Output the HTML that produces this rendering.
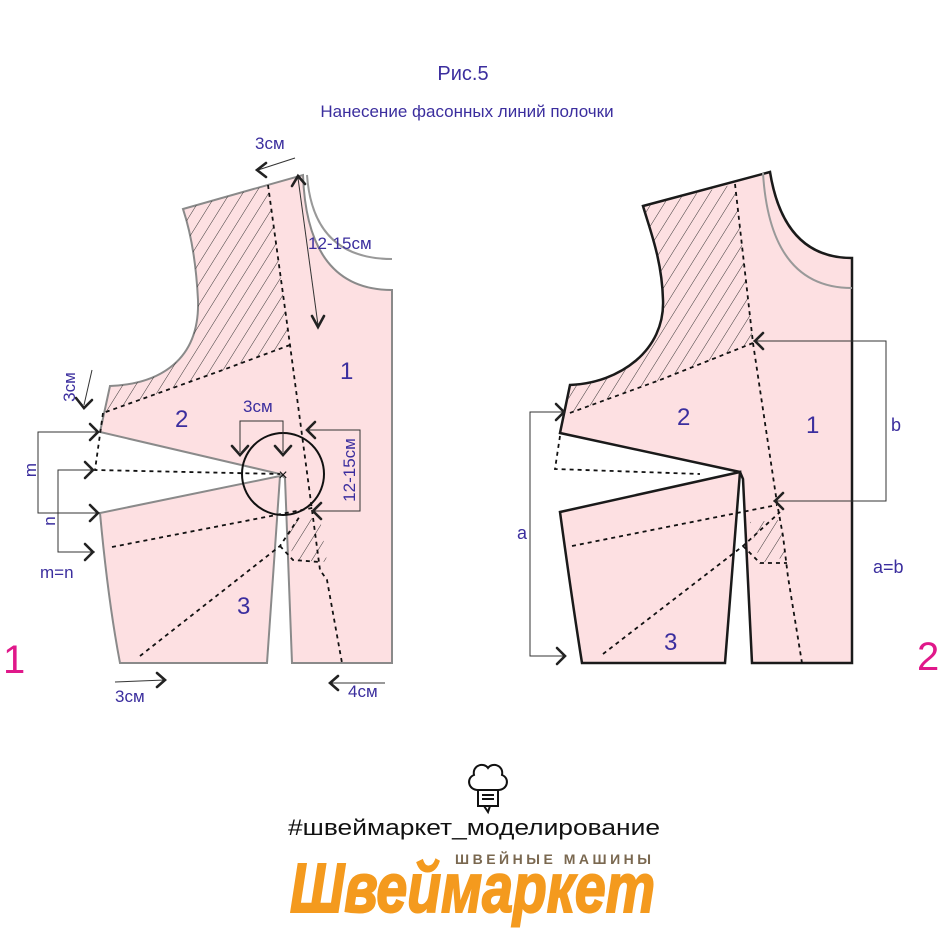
<!DOCTYPE html>
<html><head><meta charset="utf-8"><style>
html,body{margin:0;padding:0;background:#fff}
svg{display:block}
text{font-family:"Liberation Sans",sans-serif}
</style></head><body>
<svg width="947" height="947" viewBox="0 0 947 947" xmlns="http://www.w3.org/2000/svg">
<defs>
<pattern id="h" width="11" height="11" patternUnits="userSpaceOnUse" patternTransform="rotate(32)">
<line x1="0" y1="0" x2="0" y2="11" stroke="#222" stroke-width="0.9"/>
</pattern>
</defs>

<text x="463" y="80" font-size="20" fill="#3b2e9e" text-anchor="middle">Рис.5</text>
<text x="467" y="117" font-size="17" fill="#3b2e9e" text-anchor="middle">Нанесение фасонных линий полочки</text>

<!-- LEFT PIECE -->
<g fill="#fde0e2" stroke="#8a8a8a" stroke-width="2">
<path d="M183,209 L303,175 Q307,290 392,290 L392,663 L292,663 L285,478 L280,474 L100,432 L110,386 C160,384 200,360 198,300 C196,260 190,230 183,209 Z"/>
<path d="M280,476 L100,513 Q108,600 120,663 L267,663 Z"/>
</g>
<path d="M307,175 Q313,259 392,259" fill="none" stroke="#999" stroke-width="2"/>
<path d="M183,209 L268,185 L290,345 L220,371 L103,413 L110,386 C160,384 200,360 198,300 C196,260 190,230 183,209 Z" fill="url(#h)"/>
<path d="M287,520 L320,518 L327,562 L293,560 Z" fill="url(#h)"/>
<g fill="none" stroke="#111" stroke-width="1.8" stroke-dasharray="4,4">
<polyline points="268,185 290,345 320,570 327,580 342,663"/>
<polyline points="290,345 220,371 103,413"/>
<polyline points="103,413 95,470 280,474"/>
<line x1="112" y1="547" x2="317" y2="507"/>
<polyline points="140,656 280,546 300,516"/>
<polyline points="280,546 293,560 320,562"/>
</g>
<circle cx="283" cy="474" r="41" fill="none" stroke="#111" stroke-width="2"/>
<text x="283" y="480" font-size="16" fill="#111" text-anchor="middle">×</text>
<g fill="none" stroke="#333" stroke-width="1">
<polyline points="240,452 240,421 283,421 283,452"/>
<polyline points="307,430 360,430 360,511 313,511"/>
<polyline points="100,432 38,432 38,513 100,513"/>
<polyline points="95,470 58,470 58,552 95,552"/>
<line x1="295" y1="158" x2="258" y2="170"/>
<line x1="298" y1="178" x2="318" y2="325"/>
<line x1="92" y1="370" x2="84" y2="405"/>
<line x1="115" y1="682" x2="165" y2="680"/>
<line x1="330" y1="683" x2="385" y2="683"/>
</g>
<g fill="none" stroke="#222" stroke-width="2.6" stroke-linecap="round">
<polyline points="232,446 240,455 248,446"/>
<polyline points="275,446 283,455 291,446"/>
<polyline points="315,422 307,430 315,438"/>
<polyline points="321,503 313,511 321,519"/>
<polyline points="90,424 98,432 90,440"/>
<polyline points="90,505 98,513 90,521"/>
<polyline points="85,462 93,470 85,478"/>
<polyline points="85,544 93,552 85,560"/>
<polyline points="266,163 257,170 266,177"/>
<polyline points="292,186 298,176 305,184"/>
<polyline points="312,316 318,327 324,316"/>
<polyline points="76,398 84,408 92,400"/>
<polyline points="157,673 165,680 157,687"/>
<polyline points="338,676 330,683 338,690"/>
</g>
<g fill="#3b2e9e">
<text x="255" y="149" font-size="17">3см</text>
<text x="308" y="249" font-size="17">12-15см</text>
<text x="243" y="412" font-size="17">3см</text>
<text x="115" y="702" font-size="17">3см</text>
<text x="348" y="697" font-size="17">4см</text>
<text x="40" y="578" font-size="17">m=n</text>
<text transform="translate(355,470) rotate(-90)" font-size="17" text-anchor="middle">12-15см</text>
<text transform="translate(75,387) rotate(-90)" font-size="17" text-anchor="middle">3см</text>
<text transform="translate(36,470) rotate(-90)" font-size="17" text-anchor="middle">m</text>
<text transform="translate(55,521) rotate(-90)" font-size="17" text-anchor="middle">n</text>
<text x="340" y="379" font-size="24">1</text>
<text x="175" y="427" font-size="24">2</text>
<text x="237" y="614" font-size="24">3</text>
</g>
<text x="3" y="673" font-size="40" fill="#e0188a">1</text>

<!-- RIGHT PIECE -->
<g fill="#fde0e2" stroke="#1a1a1a" stroke-width="2.5">
<path d="M643,206 L770,172 Q784,258 852,258 L852,663 L752,663 L743,479 L740,472 L560,433 L570,385 C620,383 665,350 663,300 C662,260 650,230 643,206 Z"/>
<path d="M740,472 L560,512 Q572,600 582,663 L725,663 Z"/>
</g>
<path d="M763,173 Q770,288 852,288" fill="none" stroke="#999" stroke-width="2"/>
<path d="M643,206 L735,184 L753,343 L660,380 L567,414 L570,385 C620,383 665,350 663,300 C662,260 650,230 643,206 Z" fill="url(#h)"/>
<path d="M750,522 L780,520 L787,557 L760,563 Z" fill="url(#h)"/>
<g fill="none" stroke="#111" stroke-width="1.8" stroke-dasharray="4,4">
<polyline points="735,184 753,343 777,503 783,536 788,577 802,663"/>
<polyline points="753,343 660,380 567,414"/>
<polyline points="560,436 555,469 700,474"/>
<line x1="572" y1="546" x2="777" y2="505"/>
<polyline points="603,654 743,546 780,512"/>
<polyline points="743,546 760,563 787,563"/>
</g>
<g fill="none" stroke="#333" stroke-width="1">
<polyline points="753,341 886,341 886,501 773,501"/>
<polyline points="565,412 530,412 530,656 565,656"/>
</g>
<g fill="none" stroke="#222" stroke-width="2.6" stroke-linecap="round">
<polyline points="763,333 755,341 763,349"/>
<polyline points="783,493 775,501 783,509"/>
<polyline points="556,404 564,412 556,420"/>
<polyline points="557,648 565,656 557,664"/>
</g>
<g fill="#3b2e9e">
<text x="891" y="431" font-size="18">b</text>
<text x="517" y="539" font-size="18">a</text>
<text x="873" y="573" font-size="18">a=b</text>
<text x="806" y="433" font-size="24">1</text>
<text x="677" y="425" font-size="24">2</text>
<text x="664" y="650" font-size="24">3</text>
</g>
<text x="917" y="670" font-size="40" fill="#e0188a">2</text>

<!-- LOGO -->
<g fill="none" stroke="#111" stroke-width="2">
<path d="M478,790 C468,790 466,778 474,775 C472,765 484,762 488,768 C492,762 504,765 502,775 C510,778 508,790 498,790 Z"/>
<rect x="478" y="790" width="20" height="16"/>
<line x1="482" y1="795" x2="494" y2="795"/><line x1="482" y1="799" x2="494" y2="799"/>
<path d="M484,806 L488,812 L490,806"/>
</g>
<text x="474" y="835" font-size="22" fill="#111" text-anchor="middle" textLength="372" lengthAdjust="spacingAndGlyphs">#швеймаркет_моделирование</text>
<text x="455" y="864" font-size="14" font-weight="bold" fill="#7a6850" textLength="196" lengthAdjust="spacing">ШВЕЙНЫЕ МАШИНЫ</text>
<text x="290" y="912" font-family="Liberation Serif,serif" font-size="70" font-weight="bold" font-style="italic" fill="#f49a1e" stroke="#f49a1e" stroke-width="2" textLength="365" lengthAdjust="spacingAndGlyphs">Швеймаркет</text>
</svg>
</body></html>
